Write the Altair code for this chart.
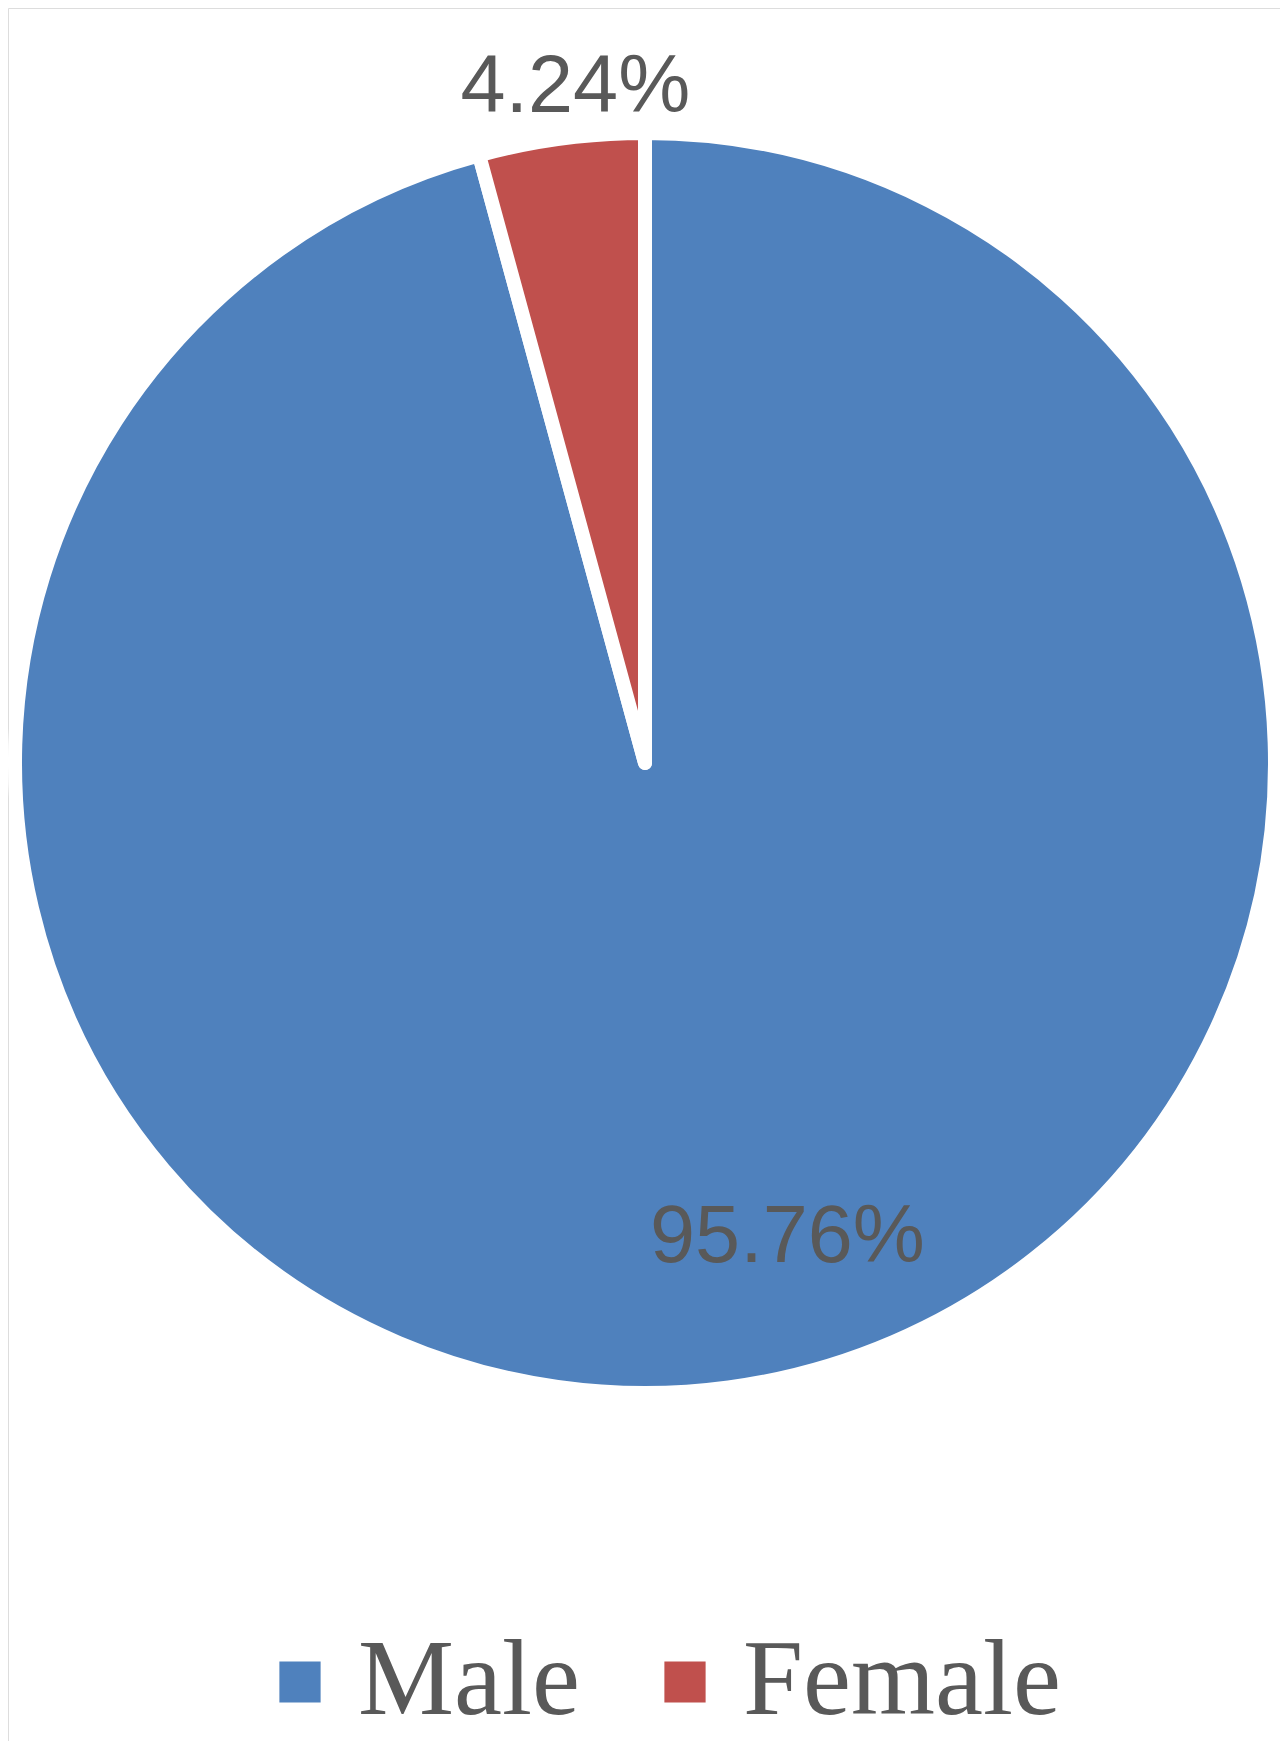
import altair as alt
import pandas as pd

categories = ["Male", "Female"]
values = [95.76, 4.24]
labels = ["95.76%", "4.24%"]
order = [0, 1]
colors = ["#4F81BD", "#C0504D"]

df = pd.DataFrame({"category": categories, "value": values, "label": labels, "order": order})

CX, CY = 637, 755

color = alt.Color(
    "category:N",
    scale=alt.Scale(domain=categories, range=colors),
    sort=categories,
    legend=alt.Legend(
        title=None,
        orient="none",
        direction="horizontal",
        legendX=238,
        legendY=1620,
        symbolType="square",
        symbolSize=1700,
        symbolStrokeWidth=0,
        symbolOpacity=1,
        labelFont="Liberation Serif",
        labelFontSize=108,
        labelColor="#595959",
        labelOffset=4,
        columnPadding=51,
        labelLimit=0,
    ),
)

pie = alt.Chart(df).mark_arc(
    radius=630, stroke="white", strokeWidth=14, strokeJoin="round"
).encode(
    theta=alt.Theta("value:Q", stack=True),
    order=alt.Order("order:Q"),
    color=color,
    x=alt.value(CX),
    y=alt.value(CY),
)

text_base = (
    alt.Chart(df)
    .transform_window(cum="sum(value)", sort=[alt.SortField("order")], frame=[None, 0])
    .transform_calculate(mid="datum.cum - datum.value / 2")
)

def label_layer(cat, radius, dx, dy):
    return (
        text_base.transform_filter(alt.datum.category == cat)
        .mark_text(
            radius=radius,
            dx=dx,
            dy=dy,
            font="Liberation Sans",
            fontSize=81,
            color="#595959",
            align="center",
            baseline="alphabetic",
        )
        .encode(
            theta=alt.Theta("mid:Q", stack=False, scale=alt.Scale(domain=[0, 100], range=[0, 6.283185307])),
            text="label:N",
            x=alt.value(CX),
            y=alt.value(CY),
        )
    )

male_lbl = label_layer("Male", 500, 76, 3)
female_lbl = label_layer("Female", 660, 18, 3)

chart = (
    alt.layer(pie, male_lbl, female_lbl)
    .properties(width=1272, height=1733, autosize=alt.AutoSizeParams(type="none"), padding=0)
    .configure_view(stroke="transparent", strokeWidth=0)
    .configure(background="white")
)

chart.save("out.html", embed_options={"renderer": "svg", "actions": False})
